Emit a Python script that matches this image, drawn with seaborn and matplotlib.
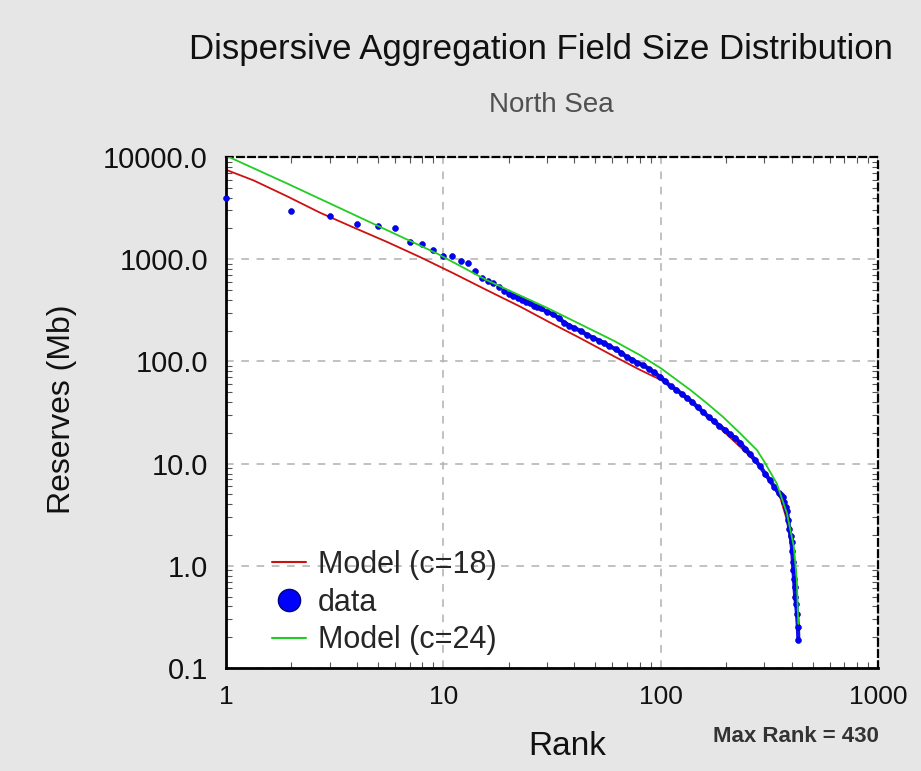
import numpy as np
import pandas as pd
import matplotlib
matplotlib.use("Agg")
import matplotlib.pyplot as plt
import seaborn as sns
from matplotlib.lines import Line2D
from matplotlib.ticker import LogLocator, NullFormatter

# field sizes (Mb) by rank
data_rank = [1, 2, 3, 4, 5, 6, 7, 8, 9, 10, 11, 12, 13, 14, 15, 16, 17, 18, 19,
             20, 21, 22, 23, 24, 25, 26, 27, 28, 30, 32, 34, 36, 38, 40, 43, 46, 49,
             52, 55, 58, 62, 66, 70, 74, 78, 83, 88, 93, 99, 105, 111, 118, 125,
             132, 140, 148, 157, 166, 176, 186, 197, 208, 220, 232, 245, 258, 272,
             287, 302, 318, 334, 350, 358, 364, 370, 376, 381, 386, 391, 396, 400,
             403, 406, 408, 411, 413, 416, 420, 424, 428, 430]
data_mb = [4000, 2950, 2650, 2200, 2100, 2000, 1480, 1400, 1230, 1080, 1070, 960, 910,
           760, 650, 615, 580, 540, 485,
           457, 440, 420, 399, 384, 372, 352, 343, 330, 306, 288, 265, 240, 224, 212,
           198, 181, 170, 160, 150, 141, 132, 121, 110, 104, 97, 92, 85, 78, 71, 64,
           57, 53, 48, 44, 40, 35.5, 32, 28.5, 26, 23.5, 21.5, 19.5, 17.8, 16, 14,
           12.4, 10.8, 9.4, 8.0, 6.9, 5.9, 5.1, 4.9, 4.7, 4.2, 3.8, 3.4, 2.8, 2.3,
           1.95, 1.7, 1.4, 1.1, 0.92, 0.75, 0.62, 0.5, 0.42, 0.34, 0.25, 0.19]

# model curves
red_rank = [1, 1.34, 1.9, 2.71, 3.85, 5.49, 7.81, 11.1, 15.8, 22.5, 30.4, 42.4, 60.6,
            80, 100, 123, 137, 163, 194, 232, 277, 307, 354, 381, 401, 415, 423, 427]
red_mb = [7500, 5900, 4150, 2850, 2050, 1480, 1050, 730, 500, 345, 245, 170, 113,
          83, 66, 49, 41, 29, 20.8, 14.6, 10.1, 7.5, 4.75, 2.8, 1.54, 0.73, 0.34, 0.24]

green_rank = [1, 1.9, 3.23, 5.49, 9.33, 15.8, 30.4, 60.6, 80.4, 100, 137, 163, 194,
              232, 277, 297, 342, 381, 410, 423, 430]
green_mb = [10300, 5535, 3270, 1930, 1140, 625, 330, 160, 115, 86, 52.5, 39, 28.5,
            19.8, 13.6, 10.8, 6.4, 3.27, 1.54, 0.73, 0.27]

y_ticks = [0.1, 1, 10, 100, 1000, 10000]
x_ticks = [1, 10, 100, 1000]

red_c = '#cc1111'
green_c = '#22cc22'
blue_c = '#0000ff'

sns.set_theme(style="white")
plt.rcParams['font.family'] = ['Liberation Sans', 'DejaVu Sans']

fig = plt.figure(figsize=(9.21, 7.71), dpi=100, facecolor='#e6e6e6')
ax = fig.add_axes([226/921, 1-668/771, 652/921, 511/771])
ax.set_facecolor('white')

df_red = pd.DataFrame({'rank': red_rank, 'mb': red_mb})
df_green = pd.DataFrame({'rank': green_rank, 'mb': green_mb})
df_data = pd.DataFrame({'rank': data_rank, 'mb': data_mb})
dense = df_data[df_data['rank'] >= 20]

sns.lineplot(data=df_red, x='rank', y='mb', color=red_c, lw=1.3, sort=False,
             estimator=None, ax=ax, zorder=2)
# the dense tail of the data reads as a thick band
sns.lineplot(data=dense, x='rank', y='mb', color='#1010ee', lw=3, sort=False,
             estimator=None, ax=ax, zorder=3)
sns.scatterplot(data=df_data, x='rank', y='mb', color=blue_c, s=18,
                edgecolor='#0000aa', linewidth=0.4, ax=ax, zorder=3, clip_on=False)
sns.lineplot(data=df_green, x='rank', y='mb', color=green_c, lw=1.3, sort=False,
             estimator=None, ax=ax, zorder=4)

ax.set_xscale('log')
ax.set_yscale('log')
ax.set_xlim(1, 1000)
ax.set_ylim(0.1, 10000)
ax.set_xticks(x_ticks)
ax.set_xticklabels([str(v) for v in x_ticks])
ax.set_yticks(y_ticks)
ax.set_yticklabels(['%.1f' % v for v in y_ticks])
ax.xaxis.set_minor_locator(LogLocator(base=10, subs=np.arange(2, 10)))
ax.yaxis.set_minor_locator(LogLocator(base=10, subs=np.arange(2, 10)))
ax.xaxis.set_minor_formatter(NullFormatter())
ax.yaxis.set_minor_formatter(NullFormatter())
ax.set_xlabel('')
ax.set_ylabel('')

ax.tick_params(which='both', direction='in', bottom=True, left=True, top=True, right=True)
ax.tick_params(which='major', length=0, pad=12, labelsize=19, labelcolor='#111111')
ax.tick_params(axis='y', which='major', labelsize=21, pad=13)
ax.tick_params(which='minor', length=4, width=0.8, color='#555555')

ax.grid(True, which='major', color='#b0b0b0', linestyle=(0, (5, 5)), linewidth=1.1)
ax.grid(False, which='minor')

for s in ['left', 'bottom']:
    ax.spines[s].set_color('black')
    ax.spines[s].set_linewidth(2)
for s in ['top', 'right']:
    ax.spines[s].set_color('black')
    ax.spines[s].set_linewidth(1.6)
    ax.spines[s].set_linestyle((0, (3, 2)))

handles = [Line2D([], [], color=red_c, lw=1.5),
           Line2D([], [], ls='none', marker='o', ms=16, mfc=blue_c, mec='#000080'),
           Line2D([], [], color=green_c, lw=1.5)]
labels = ['Model (c=18)', 'data', 'Model (c=24)']
ax.legend(handles, labels, loc='upper left', bbox_to_anchor=(272/921, 1-550/771),
          bbox_transform=fig.transFigure, frameon=False, fontsize=22,
          handlelength=1.1, handletextpad=0.4, borderpad=0, borderaxespad=0,
          labelspacing=0.25)

fig.text(541/921, 1-59/771, 'Dispersive Aggregation Field Size Distribution',
         ha='center', va='baseline', fontsize=25, color='#111111')
fig.text(551/921, 1-112/771, 'North Sea', ha='center', va='baseline',
         fontsize=20, color='#505050')
fig.text(567/921, 1-755/771, 'Rank', ha='center', va='baseline', fontsize=24,
         color='#111111')
fig.text(62/921, 1-409/771, 'Reserves (Mb)', ha='center', va='center',
         rotation=90, fontsize=23, color='#111111')
fig.text(796/921, 1-742/771, 'Max Rank = 430', ha='center', va='baseline',
         fontsize=16, fontweight='bold', color='#333333')

fig.savefig('out.png', dpi=100, facecolor=fig.get_facecolor())
